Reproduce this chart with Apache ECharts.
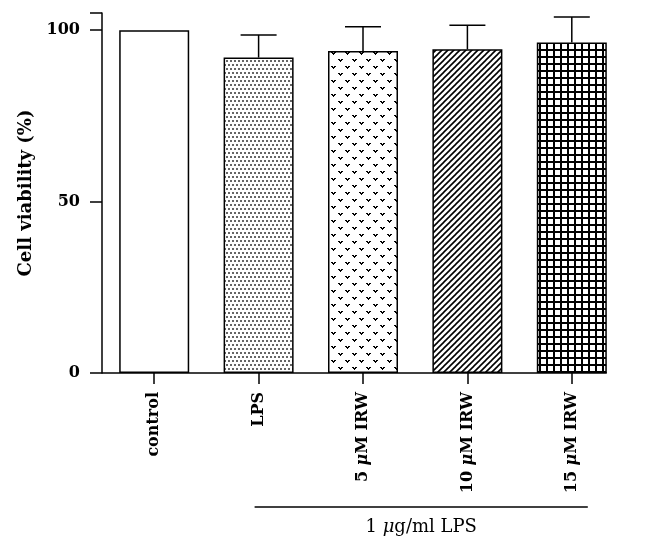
<!DOCTYPE html>
<html>
<head>
<meta charset="utf-8">
<script src="https://cdn.jsdelivr.net/npm/echarts@6/dist/echarts.min.js"></script>
<style>
  html, body { margin: 0; padding: 0; background: #fff; }
  #chart { width: 656px; height: 552px; }
</style>
</head>
<body>
<div id="chart"></div>
<script>
// data
const categories = ['control', 'LPS', '5 μM IRW', '10 μM IRW', '15 μM IRW']
const viability = [100, 92, 93.9, 94.4, 96.4]
const errors = [0, 6.6, 7.1, 7.0, 7.4]
const yTicks = [0, 50, 100]
const groupLabel = '1 μg/ml LPS'

const FONT = 'DejaVu Serif'
const BAR_W = 70

// small canvas tiles used as bar fills
const makePattern = (w, h, draw) => {
  const c = document.createElement('canvas')
  c.width = w
  c.height = h
  const ctx = c.getContext('2d')
  ctx.fillStyle = '#fff'
  ctx.fillRect(0, 0, w, h)
  draw(ctx)
  return { image: c, repeat: 'repeat' }
}

const dotFill = makePattern(4, 8, ctx => {
  ctx.fillStyle = '#666'
  ctx.fillRect(0, 0, 2, 2)
  ctx.fillRect(2, 4, 2, 2)
})

const heartFill = makePattern(14, 14, ctx => {
  ctx.fillStyle = '#000'
  const heart = (x, y) => {
    ctx.fillRect(x, y, 2, 1)
    ctx.fillRect(x + 3, y, 2, 1)
    ctx.fillRect(x + 1, y + 1, 3, 1)
    ctx.fillRect(x + 2, y + 2, 1, 1)
  }
  heart(2, 3)
  heart(9, 10)
})

const hatchFill = makePattern(6, 6, ctx => {
  ctx.strokeStyle = '#000'
  ctx.lineWidth = 1.6
  ;[0, 6, 12].forEach(c => {
    ctx.beginPath()
    ctx.moveTo(-2, c + 2)
    ctx.lineTo(c + 2, -2)
    ctx.stroke()
  })
})

const gridFill = makePattern(7, 7, ctx => {
  ctx.fillStyle = '#000'
  ctx.fillRect(0, 0, 7, 2)
  ctx.fillRect(0, 0, 2, 7)
})

const fills = ['#fff', dotFill, heartFill, hatchFill, gridFill]

const chart = echarts.init(document.getElementById('chart'))

const muLabel = s => s.replace('μ', '{mu|μ}')

const option = {
  backgroundColor: '#fff',
  animation: false,
  grid: { left: 102, right: 32, top: 13, bottom: 179 },
  xAxis: {
    type: 'category',
    data: categories,
    // the line itself is drawn below so it can stop at the last bar
    axisLine: { show: false },
    axisTick: { show: true, alignWithLabel: true, length: 11, lineStyle: { color: '#000', width: 1.5 } },
    axisLabel: {
      rotate: 90,
      margin: 19,
      color: '#000',
      fontFamily: FONT,
      fontWeight: 'bold',
      fontSize: 16,
      formatter: muLabel,
      rich: {
        mu: { fontFamily: FONT, fontWeight: 'bold', fontStyle: 'italic', fontSize: 16, color: '#000' }
      }
    }
  },
  yAxis: {
    type: 'value',
    min: 0,
    max: 105,
    interval: 50,
    name: 'Cell viability (%)',
    nameLocation: 'middle',
    nameGap: 64,
    nameTextStyle: { color: '#000', fontFamily: FONT, fontWeight: 'bold', fontSize: 18 },
    axisLine: { show: true, lineStyle: { color: '#000', width: 1.5 } },
    axisTick: { show: true, length: 12, lineStyle: { color: '#000', width: 1.5 } },
    axisLabel: {
      margin: 22,
      color: '#000',
      fontFamily: FONT,
      fontWeight: 'bold',
      fontSize: 16,
      customValues: yTicks
    },
    splitLine: { show: false }
  },
  series: [
    {
      type: 'bar',
      barWidth: BAR_W,
      data: viability.map((v, i) => ({
        value: v,
        itemStyle: { color: fills[i], borderColor: '#000', borderWidth: 1.5 }
      }))
    },
    {
      type: 'custom',
      z: 3,
      data: categories.map((c, i) => [i, viability[i], errors[i]]),
      renderItem: (params, api) => {
        const e = api.value(2)
        if (!e) return
        const base = api.coord([api.value(0), api.value(1)])
        const top = api.coord([api.value(0), api.value(1) + e])
        const half = 18
        const style = { stroke: '#000', lineWidth: 1.5 }
        return {
          type: 'group',
          children: [
            { type: 'line', shape: { x1: base[0], y1: base[1], x2: top[0], y2: top[1] }, style },
            { type: 'line', shape: { x1: top[0] - half, y1: top[1], x2: top[0] + half, y2: top[1] }, style }
          ]
        }
      }
    }
  ]
}

chart.setOption(option)

// x axis line from the y axis to the right edge of the last bar
const y0 = chart.convertToPixel({ yAxisIndex: 0 }, 0)
const axisEnd = chart.convertToPixel({ xAxisIndex: 0 }, categories.length - 1) + BAR_W / 2
// bracket under the LPS-treated groups
const xStart = chart.convertToPixel({ xAxisIndex: 0 }, 1) - 4
const xEnd = chart.convertToPixel({ xAxisIndex: 0 }, 4) + 16
chart.setOption({
  graphic: [
    {
      type: 'line',
      shape: { x1: 102, y1: y0, x2: axisEnd, y2: y0 },
      style: { stroke: '#000', lineWidth: 1.5 },
      z: 10
    },
    {
      type: 'line',
      shape: { x1: xStart, y1: 507, x2: xEnd, y2: 507 },
      style: { stroke: '#000', lineWidth: 1.5 }
    },
    {
      type: 'text',
      x: (xStart + xEnd) / 2,
      y: 527,
      style: {
        text: groupLabel.replace('μ', '{mu|μ}'),
        align: 'center',
        verticalAlign: 'middle',
        fill: '#000',
        font: '18px "' + FONT + '"',
        rich: {
          mu: { fontFamily: FONT, fontStyle: 'italic', fontSize: 18, fill: '#000' }
        }
      }
    }
  ]
})

window.addEventListener('resize', () => chart.resize())
</script>
</body>
</html>
